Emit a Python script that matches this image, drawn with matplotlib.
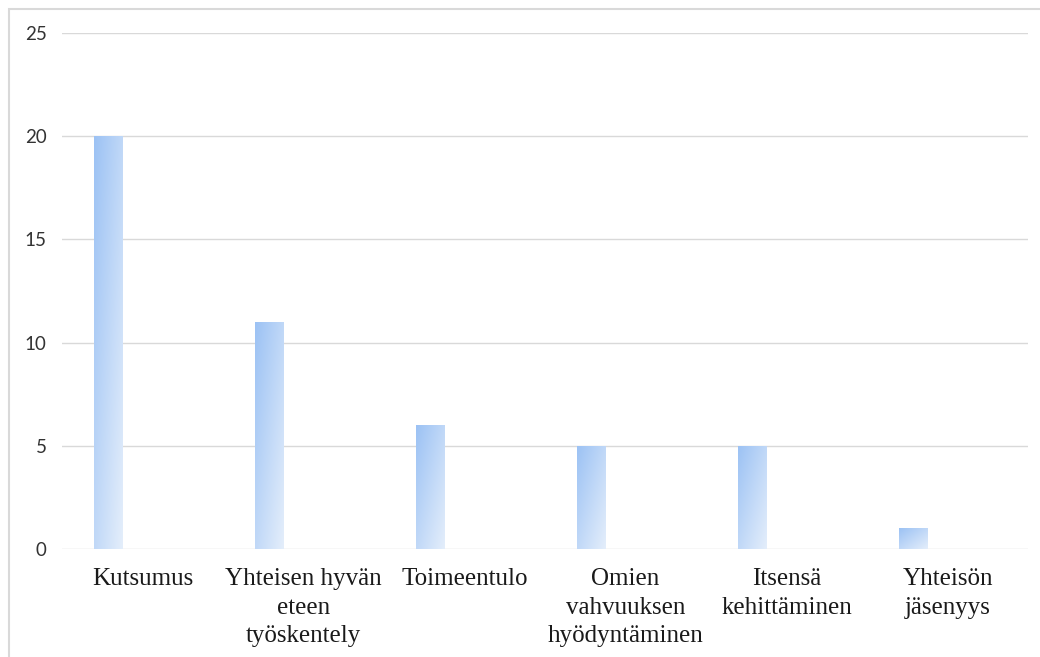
import numpy as np
import matplotlib.pyplot as plt
from matplotlib.colors import LinearSegmentedColormap
from matplotlib.patches import Rectangle

categories = ["Kutsumus", "Yhteisen hyvän\neteen\ntyöskentely", "Toimeentulo",
              "Omien\nvahvuuksen\nhyödyntäminen", "Itsensä\nkehittäminen",
              "Yhteisön\njäsenyys"]
counts = [20, 11, 6, 5, 5, 1]
yticks = [0, 5, 10, 15, 20, 25]

W, H = 1040, 657
fig = plt.figure(figsize=(W / 100, H / 100), dpi=100)

# light grey frame around the chart area
fig.patches.append(Rectangle((8.5 / W, -0.1), 1.2, 1 - 8.5 / H + 0.1,
                             transform=fig.transFigure, fill=False,
                             edgecolor="#d9d9d9", linewidth=1.5))

ax = fig.add_axes([62 / W, (H - 549) / H, (1028 - 62) / W, (549 - 33) / H])

for s in ax.spines.values():
    s.set_visible(False)
ax.set_yticks(yticks)
ax.yaxis.grid(True, color="#d9d9d9", linewidth=1)
ax.set_axisbelow(True)
ax.tick_params(axis="both", length=0)
ax.tick_params(axis="y", pad=11, labelsize=13.5, labelcolor="#333333")
for lab in ax.get_yticklabels():
    lab.set_family("Lato")

ax.set_xticks(range(len(categories)))
ax.set_xticklabels(categories, family="Liberation Serif", fontsize=18,
                   color="#1a1a1a", linespacing=1.38)
ax.tick_params(axis="x", pad=14)

# bars with a diagonal blue gradient
cmap = LinearSegmentedColormap.from_list("bl", ["#9cc2f4", "#e4eefb"])
u = np.linspace(0, 1, 60)
gx, gy = np.meshgrid(u, u)
grad = (gx + gy) / 2
offset, width = -0.214, 0.174
for i, v in enumerate(counts):
    x0 = i + offset - width / 2
    rect = Rectangle((x0, 0), width, v, facecolor="none", edgecolor="none")
    ax.add_patch(rect)
    im = ax.imshow(grad, cmap=cmap, extent=(x0, x0 + width, 0, v),
                   origin="upper", aspect="auto", interpolation="bilinear",
                   zorder=2)
    im.set_clip_path(rect)

ax.set_xlim(-0.5, len(categories) - 0.5)
ax.set_ylim(0, 25)

fig.savefig("out.png", dpi=100)
